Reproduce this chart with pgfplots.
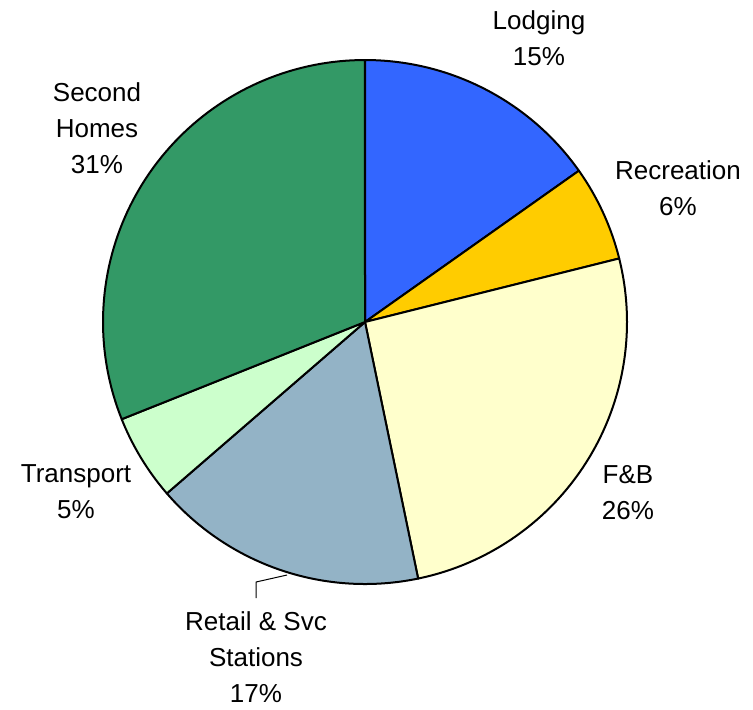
\documentclass[border=0pt]{standalone}
\usepackage{pgfplots}
\pgfplotsset{compat=1.18}
\usepackage{fontspec}
\setmainfont{Liberation Sans}
\definecolor{cLodging}{HTML}{3366FF}
\definecolor{cRec}{HTML}{FFCC00}
\definecolor{cFB}{HTML}{FFFFCC}
\definecolor{cRetail}{HTML}{93B3C6}
\definecolor{cTrans}{HTML}{CCFFCC}
\definecolor{cSecond}{HTML}{339966}
\begin{document}
\begin{tikzpicture}
\begin{axis}[
  scale only axis, width=376.5pt, height=353.5pt,
  xmin=0, xmax=753, ymin=0, ymax=707, y dir=reverse,
  hide axis, clip=false,
]
\path (axis cs:0,0) (axis cs:753,707);
\def\cx{365}\def\cy{322}\def\r{262}
\def\cum{0}
\foreach \p/\c in {15.2/cLodging, 5.9/cRec, 25.65/cFB, 16.9/cRetail, 5.3/cTrans, 31.05/cSecond}{
  \pgfmathsetmacro{\a}{\cum*3.6}
  \pgfmathsetmacro{\b}{(\cum+\p)*3.6}
  \edef\temp{\noexpand\addplot[fill=\c, draw=black, line width=1pt, line join=round, domain=\a:\b, samples=80, variable=\noexpand\t]
    ({\cx+\r*sin(\noexpand\t)},{\cy-\r*cos(\noexpand\t)}) -- (axis cs:\cx,\cy) -- cycle;}
  \temp
  \pgfmathsetmacro{\newcum}{\cum+\p}
  \global\let\cum\newcum
}
\addplot[black, line width=0.5pt] coordinates {(287,575) (256,582) (256,598)};
\begin{scope}[font=\fontsize{13}{18}\selectfont, align=center]
\node at (axis cs:539,38) {Lodging\\15\%};
\node at (axis cs:678,188) {Recreation\\6\%};
\node at (axis cs:628,493) {F\&B\\26\%};
\node at (axis cs:256,657) {Retail \& Svc\\Stations\\17\%};
\node at (axis cs:76,492) {Transport\\5\%};
\node at (axis cs:97,128) {Second\\Homes\\31\%};
\end{scope}
\end{axis}
\end{tikzpicture}
\end{document}
